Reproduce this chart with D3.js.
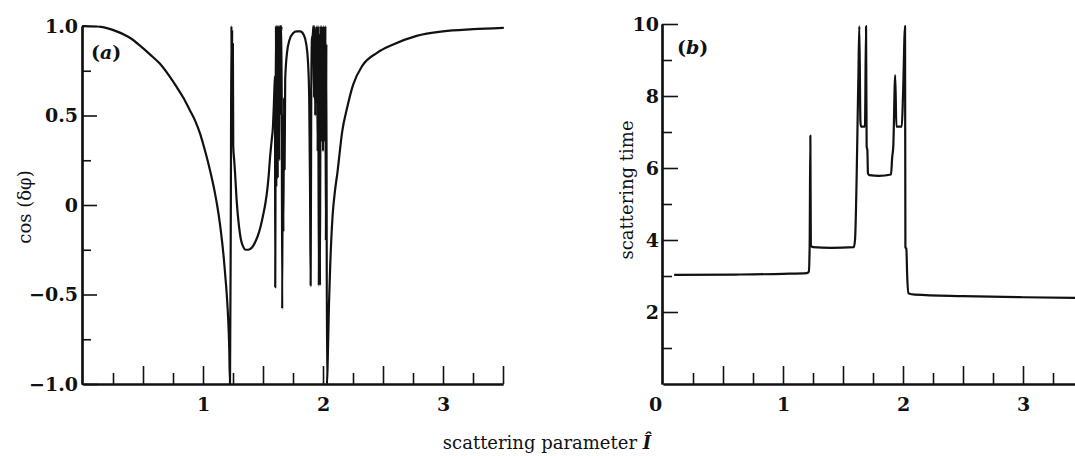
<!DOCTYPE html>
<html>
<head>
<meta charset="utf-8">
<script src="https://cdn.jsdelivr.net/npm/d3@7"></script>
<style>
  html, body { margin: 0; padding: 0; background: #fff; }
  svg { display: block; }
</style>
</head>
<body>
<svg id="chart" width="1075" height="456"></svg>
<script>
// ---------- Data ----------
// Panel (a): cos(δφ) vs scattering parameter
const aX = [0, 0.15, 0.28, 0.4, 0.475, 0.56, 0.64, 0.72, 0.78, 0.84, 0.89, 0.935, 0.975, 1.01, 1.04, 1.07, 1.1, 1.12, 1.14, 1.16, 1.175, 1.19, 1.2, 1.21, 1.218, 1.225,
  1.232, 1.237, 1.240, 1.243, 1.246, 1.249, 1.252,
  1.26, 1.267, 1.28, 1.3, 1.315, 1.333, 1.355, 1.375, 1.395, 1.417, 1.44, 1.458, 1.48, 1.5, 1.52, 1.533, 1.548, 1.558, 1.572, 1.583, 1.59, 1.595,
  1.600, 1.602, 1.605, 1.608, 1.611, 1.614, 1.617, 1.620, 1.623, 1.626, 1.629, 1.632, 1.635, 1.638, 1.641, 1.645, 1.650, 1.655, 1.660, 1.665, 1.670, 1.675, 1.680, 1.685,
  1.70, 1.72, 1.75, 1.78, 1.81, 1.84, 1.86, 1.875, 1.885, 1.892, 1.897,
  1.902, 1.908, 1.915, 1.920, 1.925, 1.930, 1.935, 1.940, 1.945, 1.950, 1.955, 1.960, 1.965, 1.970, 1.975, 1.980, 1.984, 1.988, 1.992, 1.996, 2.000, 2.004, 2.008, 2.012, 2.016, 2.020, 2.024, 2.028, 2.033,
  2.04, 2.05, 2.06, 2.08, 2.10, 2.12, 2.16, 2.20, 2.25, 2.33, 2.45, 2.58, 2.78, 3.0, 3.25, 3.5];
const aY = [1.0, 0.995, 0.97, 0.93, 0.89, 0.84, 0.79, 0.72, 0.66, 0.595, 0.53, 0.47, 0.40, 0.32, 0.245, 0.16, 0.065, -0.01, -0.10, -0.21, -0.31, -0.43, -0.52, -0.64, -0.78, -1.0,
  0.0, 1.0, 0.35, 0.98, 0.33, 0.9, 0.33,
  0.25, 0.18, 0.03, -0.12, -0.19, -0.23, -0.25, -0.25, -0.245, -0.23, -0.2, -0.17, -0.12, -0.06, 0.01, 0.07, 0.17, 0.26, 0.36, 0.44, 0.55, 0.65,
  0.72, -0.46, 0.4, 1.0, 0.1, 1.0, 0.2, 1.0, 0.15, 0.98, 0.3, 1.0, 0.25, 1.0, 0.5, 1.0, 0.97, 1.0, -0.58, 0.5, -0.15, 0.6, 0.2, 0.7,
  0.85, 0.92, 0.96, 0.97, 0.97, 0.95, 0.9, 0.8, 0.6, 0.1, -0.45,
  0.6, 0.93, 0.95, 1.0, 0.6, 1.0, 0.5, 0.98, 0.7, 1.0, 0.3, 1.0, -0.45, 0.95, -0.45, 1.0, 0.35, 1.0, 0.4, 0.98, 0.3, 1.0, 0.45, 0.97, 0.35, 1.0, -0.2, 0.9, -1.0,
  -0.85, -0.55, -0.34, -0.06, 0.08, 0.18, 0.41, 0.54, 0.67, 0.78, 0.85, 0.895, 0.945, 0.97, 0.982, 0.99];

// Panel (b): scattering time vs scattering parameter
const bX = [0.1, 0.6, 1.0, 1.2, 1.215, 1.222, 1.228, 1.232, 1.25, 1.4, 1.59, 1.6, 1.628, 1.636, 1.645, 1.65, 1.683, 1.692, 1.697, 1.703, 1.708, 1.72, 1.8, 1.9, 1.91, 1.919, 1.935, 1.945, 1.99, 2.0, 2.017, 2.02, 2.028, 2.035, 2.044, 2.1, 2.5, 3.0, 3.5];
const bY = [3.03, 3.04, 3.06, 3.08, 3.12, 3.8, 6.9, 3.85, 3.8, 3.78, 3.8, 4.0, 8.5, 9.94, 7.3, 7.15, 7.15, 9.94, 6.6, 6.5, 5.85, 5.8, 5.78, 5.82, 6.3, 6.6, 8.58, 7.15, 7.15, 8.0, 9.94, 3.8, 3.75, 3.0, 2.52, 2.48, 2.44, 2.41, 2.39];

// Ticks / labels
const xMajor = [0.5, 1, 1.5, 2, 2.5, 3, 3.5];
const xMinor = [0.25, 0.75, 1.25, 1.75, 2.25, 2.75, 3.25];
const aXLabels = {1: "1", 2: "2", 3: "3"};
const bXLabels = {0: "0", 1: "1", 2: "2", 3: "3"};
const aYMajor = [-1, -0.5, 0, 0.5, 1];
const aYMinor = [-0.75, -0.25, 0.25, 0.75];
const aYLabels = {"-1": "−1.0", "-0.5": "−0.5", "0": "0", "0.5": "0.5", "1": "1.0"};
const bYMajor = [2, 4, 6, 8, 10];
const bYMinor = [1, 3, 5, 7, 9];

// ---------- Drawing ----------
const svg = d3.select("#chart");
const numFont = "'DejaVu Serif', serif";

const xA = d3.scaleLinear().domain([0, 3.5]).range([83, 503]);
const yA = d3.scaleLinear().domain([-1, 1]).range([384, 26]);
const xB = d3.scaleLinear().domain([0, 3.5]).range([663, 1083]);
const yB = d3.scaleLinear().domain([0, 10]).range([384, 24]);

function styleAxis(g) {
  g.selectAll(".domain").attr("stroke", "#111").attr("stroke-width", 2.2);
  g.selectAll(".tick line").attr("stroke", "#111").attr("stroke-width", 1.6);
  g.selectAll("text").attr("font-family", numFont).attr("font-weight", "bold")
    .attr("font-size", 19).attr("fill", "#111");
}

function drawPanel(x, y, xLabels, yMajor, yMinor, yFmt, xs, ys, yMajLen, yMinLen, yPad) {
  const gxm = svg.append("g").attr("transform", `translate(0,${y.range()[0]})`)
    .call(d3.axisBottom(x).tickValues(xMinor).tickSize(-11).tickSizeOuter(0).tickFormat(""));
  styleAxis(gxm);
  const gx = svg.append("g").attr("transform", `translate(0,${y.range()[0]})`)
    .call(d3.axisBottom(x).tickValues(xMajor.concat(xLabels[0] ? [0] : []))
      .tickSize(-18).tickSizeOuter(0).tickPadding(14)
      .tickFormat(d => xLabels[d] || ""));
  styleAxis(gx);
  gx.selectAll(".tick").filter(d => d === 0).select("line").remove();
  gx.selectAll(".tick").filter(d => d === 0).select("text").attr("dx", -8);
  const gym = svg.append("g").attr("transform", `translate(${x(0) - 1},0)`)
    .call(d3.axisLeft(y).tickValues(yMinor).tickSize(-yMinLen).tickSizeOuter(0).tickFormat(""));
  styleAxis(gym);
  const gy = svg.append("g").attr("transform", `translate(${x(0) - 1},0)`)
    .call(d3.axisLeft(y).tickValues(yMajor).tickSize(-yMajLen).tickSizeOuter(0)
      .tickPadding(yPad).tickFormat(yFmt));
  styleAxis(gy);
  const pts = xs.map((v, i) => [v, ys[i]]);
  svg.append("path").datum(pts)
    .attr("d", d3.line().curve(d3.curveMonotoneX).x(d => x(d[0])).y(d => y(d[1])))
    .attr("fill", "none").attr("stroke", "#111").attr("stroke-width", 2.2)
    .attr("stroke-linejoin", "round").attr("stroke-linecap", "round");
}

drawPanel(xA, yA, aXLabels, aYMajor, aYMinor, d => aYLabels[String(d)], aX, aY, 15, 9, 4);
drawPanel(xB, yB, bXLabels, bYMajor, bYMinor, d => String(d), bX, bY, 16, 10, 3);

function tag(xp, yp, letter) {
  const t = svg.append("text").attr("x", xp).attr("y", yp)
    .attr("font-family", numFont).attr("font-weight", "bold").attr("font-size", 19).attr("fill", "#111");
  t.append("tspan").text("(");
  t.append("tspan").attr("font-style", "italic").text(letter);
  t.append("tspan").text(")");
}
tag(91, 59, "a");
tag(677, 54, "b");

const serif = "'DejaVu Serif', serif";
svg.append("text").attr("transform", "translate(31,207) rotate(-90)")
  .attr("text-anchor", "middle").attr("font-family", serif).attr("font-size", 18).attr("fill", "#111")
  .text("cos (δφ)");
svg.append("text").attr("transform", "translate(633,190) rotate(-90)")
  .attr("text-anchor", "middle").attr("font-family", serif).attr("font-size", 18).attr("fill", "#111")
  .text("scattering time");
const xt = svg.append("text").attr("x", 547).attr("y", 449)
  .attr("text-anchor", "middle").attr("font-family", serif).attr("font-size", 18).attr("fill", "#111");
xt.append("tspan").text("scattering parameter ");
xt.append("tspan").attr("font-style", "italic").attr("font-weight", "bold").text("Î");
</script>
</body>
</html>
